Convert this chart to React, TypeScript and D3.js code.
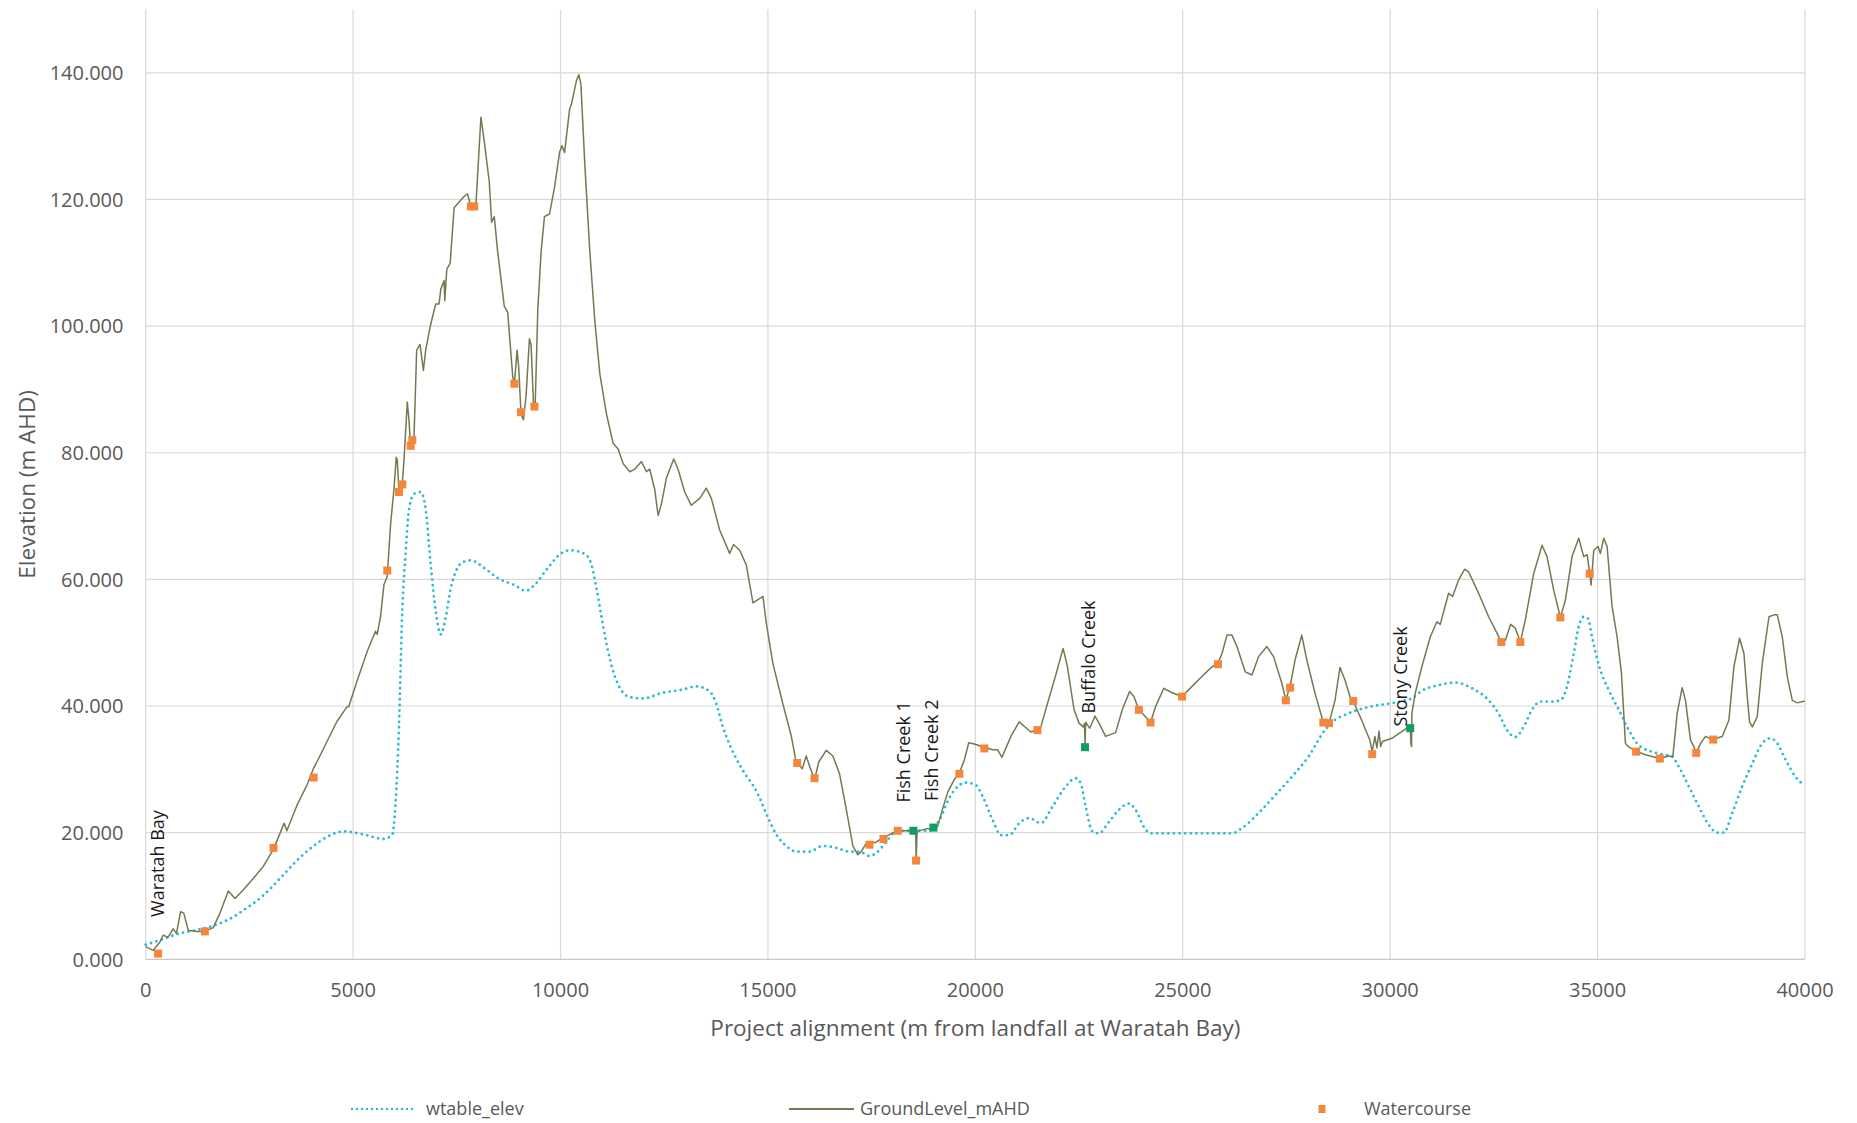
import React from 'react';
import * as d3 from 'd3';

const W = 1857;
const H = 1123;

const xTicks = [0, 5000, 10000, 15000, 20000, 25000, 30000, 35000, 40000];
const yTicks = [0, 20, 40, 60, 80, 100, 120, 140];

const groundLevel: [number, number][] = [
  [0, 2.0], [177, 1.4], [339, 2.7], [420, 3.8], [540, 3.5], [661, 4.8], [742, 4.1], [839, 7.5], [919, 7.3],
  [1024, 4.6], [1226, 4.4], [1427, 4.4], [1629, 5.0], [1790, 7.3], [1992, 10.8], [2153, 9.6], [2355, 11.0],
  [2597, 12.8], [2839, 14.7], [3081, 17.4], [3282, 20.6], [3339, 21.5], [3403, 20.3], [3645, 24.3], [3887, 27.5],
  [4048, 30.2], [4129, 31.2], [4371, 34.4], [4613, 37.6], [4855, 39.9], [4895, 39.9], [5097, 44.0], [5339, 48.6],
  [5540, 51.8], [5581, 51.3], [5661, 54.1], [5742, 59.1], [5823, 60.5], [5903, 68.7], [5984, 74.2], [6040, 79.3],
  [6065, 78.8], [6105, 73.8], [6185, 75.1], [6226, 78.8], [6306, 88.0], [6347, 85.2], [6387, 80.6], [6468, 82.5],
  [6532, 96.2], [6613, 97.1], [6694, 93.0], [6750, 96.2], [6871, 100.3], [6992, 103.5], [7073, 103.5], [7113, 105.8],
  [7194, 107.2], [7210, 104.0], [7258, 109.0], [7339, 109.9], [7435, 118.7], [7556, 119.6], [7677, 120.5],
  [7758, 120.9], [7823, 119.3], [7960, 119.1], [8000, 123.7], [8081, 133.0], [8161, 129.2], [8282, 122.8],
  [8339, 116.4], [8403, 117.3], [8484, 111.8], [8645, 103.1], [8726, 102.2], [8847, 92.1], [8887, 90.7],
  [8952, 96.2], [8992, 93.5], [9048, 86.1], [9105, 85.2], [9169, 88.9], [9250, 98.0], [9290, 97.1], [9347, 88.0],
  [9387, 87.0], [9452, 102.6], [9532, 111.8], [9613, 117.3], [9734, 117.7], [9855, 121.9], [9976, 127.4],
  [10032, 128.5], [10097, 127.4], [10218, 134.2], [10265, 135.1], [10385, 138.8], [10441, 139.7], [10490, 138.3],
  [10586, 125.5], [10706, 111.8], [10827, 100.8], [10947, 92.5], [11108, 86.1], [11268, 81.5], [11388, 80.6],
  [11509, 78.3], [11669, 77.0], [11790, 77.4], [11950, 78.6], [12071, 77.0], [12151, 77.4], [12271, 74.2],
  [12352, 70.1], [12432, 71.9], [12552, 76.0], [12729, 79.0], [12833, 77.4], [12994, 73.8], [13154, 71.7],
  [13355, 72.8], [13515, 74.4], [13636, 72.8], [13836, 67.8], [14077, 64.1], [14173, 65.5], [14318, 64.6],
  [14478, 62.3], [14639, 56.3], [14759, 56.8], [14880, 57.3], [14960, 53.1], [15120, 46.7], [15361, 40.3],
  [15562, 35.3], [15666, 31.6], [15722, 31.0], [15827, 30.1], [15923, 32.1], [16019, 30.2], [16124, 28.4],
  [16228, 31.2], [16405, 33.0], [16565, 32.1], [16726, 29.3], [16886, 23.8], [17047, 17.9], [17167, 16.5],
  [17247, 17.0], [17368, 18.3], [17608, 18.5], [17769, 19.2], [17929, 19.7], [18130, 20.3], [18331, 20.3],
  [18507, 20.3], [18560, 20.2], [18575, 15.8], [18595, 20.2], [18812, 20.6], [18989, 20.6], [19093, 21.0],
  [19213, 23.8], [19334, 26.4], [19494, 28.4], [19615, 29.4], [19736, 31.5], [19840, 34.2], [19976, 34.0],
  [20216, 33.5], [20417, 33.1], [20537, 33.1], [20641, 31.9], [20857, 35.2], [21058, 37.5], [21178, 36.8],
  [21338, 35.9], [21498, 36.2], [21579, 36.7], [21739, 40.4], [21939, 44.9], [22115, 49.1], [22220, 46.2],
  [22380, 39.4], [22500, 37.3], [22596, 36.7], [22630, 37.2], [22644, 34.0], [22660, 37.4], [22756, 36.5],
  [22885, 38.4], [22981, 37.3], [23141, 35.2], [23381, 35.8], [23542, 39.4], [23718, 42.3], [23822, 41.5],
  [23942, 39.4], [24103, 38.3], [24223, 37.4], [24343, 39.9], [24543, 42.8], [24744, 42.1], [24984, 41.5],
  [25224, 43.1], [25545, 45.2], [25705, 46.2], [25849, 46.8], [25946, 48.3], [26066, 51.2], [26186, 51.2],
  [26306, 49.4], [26506, 45.4], [26667, 44.9], [26827, 47.8], [27027, 49.4], [27188, 47.8], [27388, 43.6],
  [27484, 41.0], [27588, 43.1], [27708, 47.3], [27869, 51.2], [27989, 47.3], [28189, 42.0], [28389, 37.4],
  [28526, 37.3], [28670, 40.9], [28790, 46.1], [28910, 44.1], [29030, 41.5], [29110, 40.8], [29311, 37.8],
  [29511, 34.6], [29567, 32.8], [29631, 35.2], [29680, 33.4], [29730, 36.0], [29770, 33.6], [29815, 34.4],
  [30040, 34.9], [30402, 36.5], [30483, 36.8], [30500, 34.0], [30515, 33.6], [30523, 38.8], [30603, 42.0],
  [30764, 46.2], [30966, 50.9], [31127, 53.3], [31207, 52.9], [31408, 57.8], [31505, 57.3], [31649, 59.9],
  [31794, 61.6], [31891, 61.2], [32132, 57.8], [32373, 54.1], [32575, 51.5], [32679, 50.1], [32776, 50.4],
  [32905, 52.9], [33017, 52.3], [33138, 50.1], [33258, 53.6], [33459, 60.9], [33661, 65.4], [33781, 63.6],
  [33942, 58.3], [34103, 54.0], [34223, 56.7], [34384, 63.6], [34545, 66.5], [34666, 63.6], [34747, 63.9],
  [34811, 61.0], [34843, 59.1], [34908, 64.6], [35012, 65.2], [35068, 64.1], [35149, 66.5], [35229, 65.2],
  [35350, 55.7], [35471, 50.9], [35575, 45.2], [35672, 34.1], [35736, 33.6], [35953, 32.8], [36155, 32.3],
  [36500, 31.7], [36717, 32.1], [36814, 32.0], [36918, 38.8], [37039, 42.9], [37119, 40.9], [37240, 34.6],
  [37320, 33.6], [37377, 32.6], [37482, 34.1], [37603, 35.2], [37764, 34.7], [38005, 35.2], [38166, 37.8],
  [38286, 46.2], [38423, 50.7], [38528, 48.3], [38608, 41.5], [38664, 37.5], [38729, 36.7], [38849, 38.3],
  [38970, 46.7], [39131, 54.1], [39252, 54.4], [39332, 54.4], [39453, 50.9], [39574, 44.6], [39694, 40.9],
  [39815, 40.5], [40000, 40.8],
];

const wtableElev: [number, number][] = [
  [0, 2.3], [420, 3.2], [823, 4.1], [1226, 4.6], [1629, 5.3], [2032, 6.4], [2435, 8.1], [2839, 10.1],
  [3242, 12.8], [3645, 15.6], [4048, 17.9], [4452, 19.6], [4774, 20.2], [5258, 19.7], [5742, 19.0], [5944, 19.7],
  [6024, 24.7], [6105, 36.7], [6185, 55.0], [6266, 64.1], [6347, 71.0], [6468, 73.5], [6629, 73.8], [6750, 71.0],
  [6871, 62.3], [6992, 55.0], [7113, 51.3], [7234, 54.1], [7355, 58.6], [7516, 61.8], [7677, 62.8], [7839, 63.0],
  [8161, 61.8], [8484, 60.2], [8887, 59.1], [9169, 58.2], [9371, 59.1], [9694, 61.8], [10016, 64.1], [10225, 64.6],
  [10586, 64.0], [10746, 62.3], [10867, 58.6], [10987, 54.1], [11148, 48.6], [11348, 44.0], [11669, 41.4],
  [11990, 41.2], [12472, 42.1], [12953, 42.6], [13274, 43.1], [13596, 42.3], [13756, 40.3], [13917, 36.6],
  [14077, 33.9], [14398, 29.8], [14719, 26.6], [15000, 22.4], [15201, 19.7], [15441, 17.9], [15682, 17.0],
  [16003, 17.0], [16324, 17.9], [16645, 17.6], [16966, 17.0], [17207, 17.0], [17448, 16.3], [17648, 17.0],
  [17849, 18.5], [18090, 20.2], [18411, 20.3], [18892, 20.3], [19133, 22.0], [19374, 25.5], [19615, 27.5],
  [19775, 27.9], [20016, 27.5], [20176, 25.7], [20417, 22.0], [20617, 19.6], [20817, 19.6], [21058, 21.5],
  [21298, 22.3], [21579, 21.5], [21859, 24.1], [22180, 27.3], [22420, 28.6], [22540, 27.8], [22660, 24.1],
  [22821, 20.2], [22981, 19.9], [23221, 21.7], [23462, 23.6], [23702, 24.6], [23863, 23.6], [24063, 20.9],
  [24223, 19.9], [25224, 19.9], [26186, 19.9], [26426, 20.7], [26827, 23.1], [27228, 25.9], [27628, 28.8],
  [28029, 32.0], [28429, 36.2], [28670, 37.8], [28910, 38.6], [29231, 39.4], [29600, 40.0], [30000, 40.4],
  [30300, 40.8], [30523, 41.2], [30764, 42.4], [31167, 43.3], [31569, 43.7], [31971, 42.8], [32373, 40.9],
  [32614, 38.8], [32816, 36.2], [33017, 35.1], [33218, 36.7], [33419, 39.4], [33620, 40.7], [33902, 40.7],
  [34103, 40.9], [34264, 43.1], [34425, 48.3], [34545, 52.5], [34666, 54.1], [34771, 53.8], [34867, 50.9],
  [35028, 46.5], [35270, 42.5], [35511, 39.4], [35752, 36.2], [35994, 33.8], [36400, 32.6], [36798, 32.0],
  [36958, 30.4], [37199, 27.3], [37441, 24.1], [37683, 21.2], [37884, 20.0], [38045, 20.0], [38246, 23.1],
  [38487, 27.3], [38729, 30.9], [38970, 34.1], [39171, 34.9], [39332, 34.1], [39533, 31.5], [39775, 28.8],
  [39976, 27.5],
];

const watercourse: [number, number][] = [
  [298, 0.9], [1427, 4.4], [3081, 17.6], [4048, 28.7], [5823, 61.4], [6105, 73.8], [6185, 75.0], [6387, 81.1],
  [6427, 82.0], [7839, 118.9], [7920, 118.9], [8887, 90.9], [9048, 86.4], [9371, 87.3], [15706, 31.0],
  [16124, 28.6], [17448, 18.1], [17785, 19.0], [18130, 20.3], [18571, 15.6], [19615, 29.3], [20216, 33.3],
  [21498, 36.2], [23942, 39.4], [24223, 37.4], [24984, 41.5], [25849, 46.6], [27484, 40.9], [27588, 42.9],
  [28389, 37.4], [28526, 37.3], [29110, 40.8], [29567, 32.4], [32679, 50.1], [33138, 50.1], [34103, 54.0],
  [34811, 60.9], [35929, 32.8], [36500, 31.7], [37377, 32.6], [37788, 34.7],
];

const namedCrossings: [number, number][] = [
  [18507, 20.3], [18989, 20.8], [22644, 33.5], [30483, 36.5],
];

const annotationLabels = ['Waratah Bay', 'Fish Creek 1', 'Fish Creek 2', 'Buffalo Creek', 'Stony Creek'];
const annotationStation = [296, 18268, 18939, 22716, 30254];
const annotationBase = [6.7, 24.75, 25.0, 38.8, 36.75];

const FONT = "'Open Sans', 'DejaVu Sans', sans-serif";
const TXT = '#595959';
const GRID = '#d9d9d9';
const GROUND = '#737a52';
const WATER = '#27bcd3';
const ORANGE = '#f5873a';
const GREEN = '#0f9d63';

export default function App() {
  const x = d3.scaleLinear().domain([0, 40000]).range([145.7, 1805]);
  const y = d3.scaleLinear().domain([0, 150]).range([959.3, 9.5]);

  const groundPath = d3.line<[number, number]>().x(d => x(d[0])).y(d => y(d[1]))(groundLevel) || '';
  const waterPath = d3.line<[number, number]>().x(d => x(d[0])).y(d => y(d[1])).curve(d3.curveMonotoneX)(wtableElev) || '';
  const yFmt = d3.format('.3f');
  const ms = 8;

  return (
    <svg width={W} height={H} viewBox={`0 0 ${W} ${H}`} style={{ display: 'block', background: '#fff' }}>
      <style>{`body{margin:0}`}</style>
      <rect x={0} y={0} width={W} height={H} fill="#fff" />
      {xTicks.map(t => (
        <line key={'vx' + t} x1={x(t)} x2={x(t)} y1={y(150)} y2={y(0)} stroke={GRID} strokeWidth={1.2} />
      ))}
      {yTicks.map(t => (
        <line key={'hy' + t} x1={x(0)} x2={x(40000)} y1={y(t)} y2={y(t)} stroke={t === 0 ? '#c8c8c8' : GRID} strokeWidth={1.2} />
      ))}
      {yTicks.map(t => (
        <text key={'yl' + t} x={123.5} y={y(t)} dy="0.36em" textAnchor="end" fontFamily={FONT} fontSize={20} fill={TXT}>
          {yFmt(t)}
        </text>
      ))}
      {xTicks.map(t => (
        <text key={'xl' + t} x={x(t)} y={997} textAnchor="middle" fontFamily={FONT} fontSize={20} fill={TXT}>
          {String(t)}
        </text>
      ))}
      <text x={(x(0) + x(40000)) / 2} y={1036} textAnchor="middle" fontFamily={FONT} fontSize={22.5} fill={TXT}>
        Project alignment (m from landfall at Waratah Bay)
      </text>
      <text transform={`translate(27,${(y(0) + y(150)) / 2}) rotate(-90)`} dy="0.36em" textAnchor="middle" fontFamily={FONT} fontSize={22.5} fill={TXT}>
        Elevation (m AHD)
      </text>
      <path d={waterPath} fill="none" stroke={WATER} strokeWidth={2.8} strokeDasharray="0 5.6" strokeLinecap="round" />
      <path d={groundPath} fill="none" stroke={GROUND} strokeWidth={1.5} strokeLinejoin="round" />
      {watercourse.map((d, i) => (
        <rect key={'wc' + i} x={x(d[0]) - ms / 2} y={y(d[1]) - ms / 2} width={ms} height={ms} fill={ORANGE} />
      ))}
      {namedCrossings.map((d, i) => (
        <rect key={'nc' + i} x={x(d[0]) - ms / 2} y={y(d[1]) - ms / 2} width={ms} height={ms} fill={GREEN} />
      ))}
      {annotationLabels.map((lab, i) => (
        <text key={'an' + i} transform={`translate(${x(annotationStation[i])},${y(annotationBase[i])}) rotate(-90)`} dy="0.36em" textAnchor="start" fontFamily={FONT} fontSize={18} fill="#1a1a1a">
          {lab}
        </text>
      ))}
      <line x1={352} x2={414} y1={1109} y2={1109} stroke={WATER} strokeWidth={2.4} strokeDasharray="0 5" strokeLinecap="round" />
      <text x={426} y={1109} dy="0.36em" fontFamily={FONT} fontSize={18} fill={TXT}>wtable_elev</text>
      <line x1={789} x2={854} y1={1109} y2={1109} stroke={GROUND} strokeWidth={2} />
      <text x={860} y={1109} dy="0.36em" fontFamily={FONT} fontSize={18} fill={TXT}>GroundLevel_mAHD</text>
      <rect x={1322 - 3.5} y={1109 - 4} width={7} height={8} fill={ORANGE} />
      <text x={1364} y={1109} dy="0.36em" fontFamily={FONT} fontSize={18} fill={TXT}>Watercourse</text>
    </svg>
  );
}
